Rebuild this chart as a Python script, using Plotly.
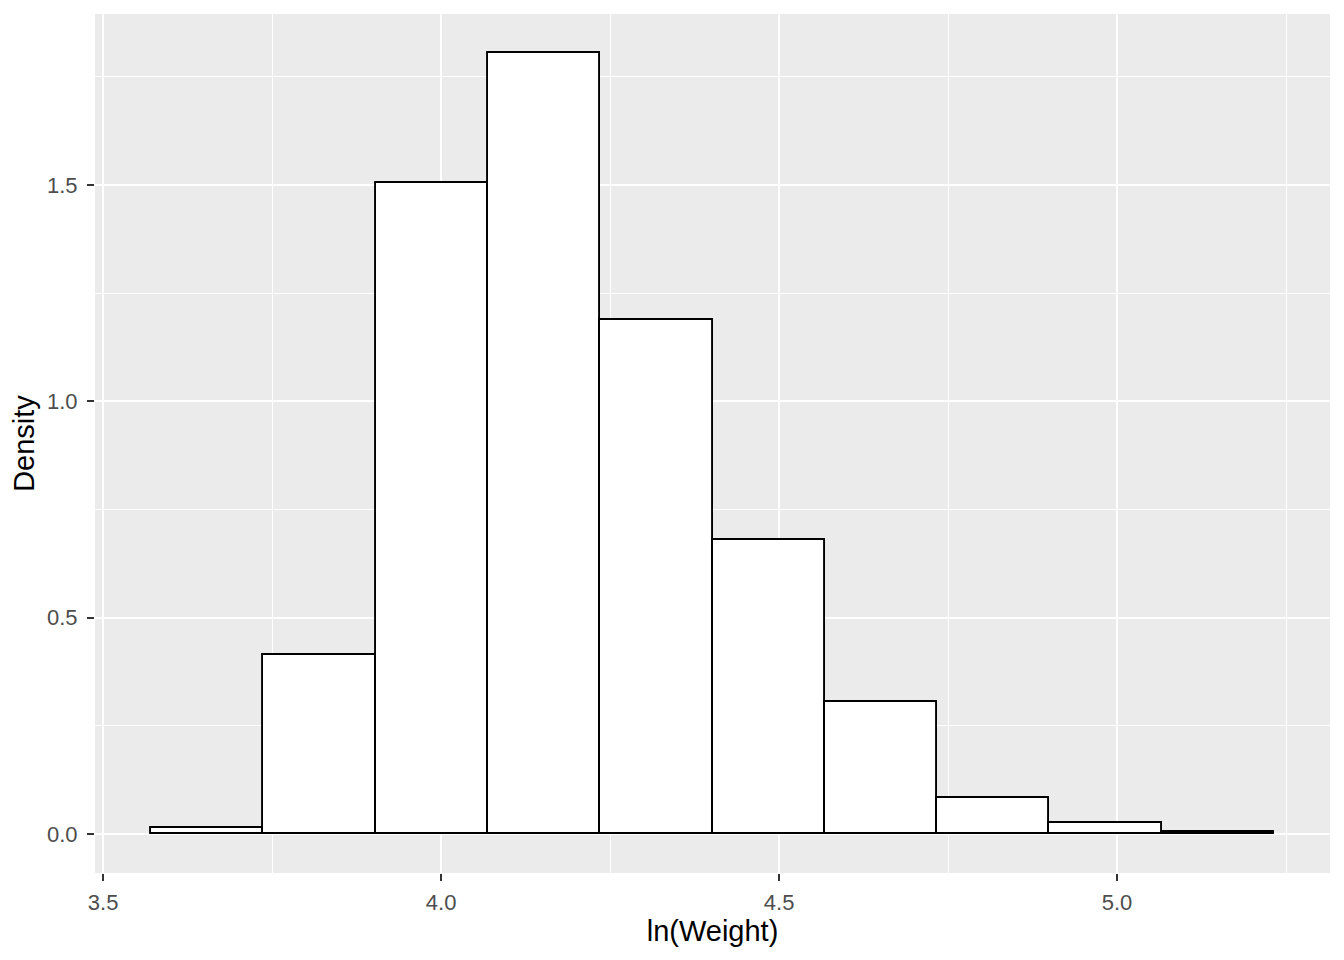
import plotly.graph_objects as go

# histogram of ln(Weight), density scale
bin_centers = [3.6541, 3.8202, 3.9863, 4.1524, 4.3185, 4.4846, 4.6507, 4.8168, 4.9829, 5.1490]
bin_width = 0.1661
density = [0.014, 0.414, 1.505, 1.806, 1.188, 0.679, 0.305, 0.084, 0.025, 0.005]

x_ticks = [3.5, 4.0, 4.5, 5.0]
x_labels = ["3.5", "4.0", "4.5", "5.0"]
y_ticks = [0.0, 0.5, 1.0, 1.5]
y_labels = ["0.0", "0.5", "1.0", "1.5"]

fig = go.Figure()

fig.add_trace(go.Bar(
    x=bin_centers,
    y=density,
    width=[bin_width] * len(bin_centers),
    marker=dict(color='white', line=dict(color='black', width=1.9)),
    showlegend=False,
))

axis_font = dict(family='Liberation Sans, Arial, sans-serif', size=22, color='#4D4D4D')
title_font = dict(family='Liberation Sans, Arial, sans-serif', size=29, color='black')

fig.update_layout(
    width=1344,
    height=960,
    # page body has an 8px margin, so shift by that much
    margin=dict(l=87, r=22, t=6, b=95),
    paper_bgcolor='white',
    plot_bgcolor='#EBEBEB',
    bargap=0,
    xaxis=dict(
        range=[3.488, 5.315],
        tickvals=x_ticks,
        ticktext=x_labels,
        tickfont=axis_font,
        ticks='outside', ticklen=7, tickwidth=1.6, tickcolor='#333333',
        ticklabelstandoff=3,
        showgrid=True, gridcolor='white', gridwidth=1.8,
        minor=dict(dtick=0.25, tick0=3.25, showgrid=True, gridcolor='white', gridwidth=0.9, ticks=''),
        zeroline=False, showline=False,
        title=dict(text='ln(Weight)', font=title_font, standoff=6),
    ),
    yaxis=dict(
        range=[-0.090, 1.895],
        tickvals=y_ticks,
        ticktext=y_labels,
        tickfont=axis_font,
        ticks='outside', ticklen=7, tickwidth=1.6, tickcolor='#333333',
        ticklabelstandoff=5,
        showgrid=True, gridcolor='white', gridwidth=1.8,
        minor=dict(dtick=0.25, tick0=0.25, showgrid=True, gridcolor='white', gridwidth=0.9, ticks=''),
        zeroline=False, showline=False,
        title=dict(text='Density', font=title_font, standoff=8),
    ),
)

fig.write_html("out.html")
